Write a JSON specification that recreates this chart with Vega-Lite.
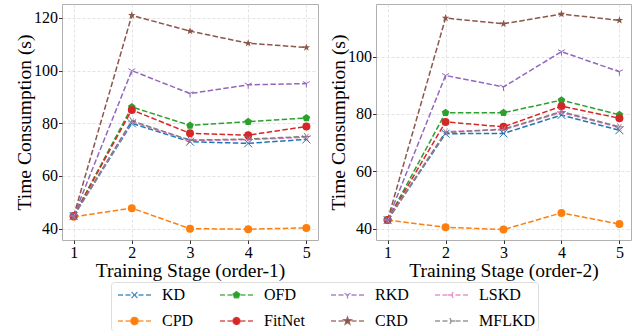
{
  "$schema": "https://vega.github.io/schema/vega-lite/v6.json",
  "background": "white",
  "padding": {"left": 14, "top": 3, "right": 5, "bottom": 0},
  "data": {"values": [
    {"o": 1, "s": 1, "m": "KD", "t": 44.8}, {"o": 1, "s": 2, "m": "KD", "t": 80.0}, {"o": 1, "s": 3, "m": "KD", "t": 73.0}, {"o": 1, "s": 4, "m": "KD", "t": 72.4}, {"o": 1, "s": 5, "m": "KD", "t": 73.9},
    {"o": 1, "s": 1, "m": "CPD", "t": 44.5}, {"o": 1, "s": 2, "m": "CPD", "t": 47.8}, {"o": 1, "s": 3, "m": "CPD", "t": 40.0}, {"o": 1, "s": 4, "m": "CPD", "t": 39.8}, {"o": 1, "s": 5, "m": "CPD", "t": 40.3},
    {"o": 1, "s": 1, "m": "OFD", "t": 44.8}, {"o": 1, "s": 2, "m": "OFD", "t": 86.2}, {"o": 1, "s": 3, "m": "OFD", "t": 79.2}, {"o": 1, "s": 4, "m": "OFD", "t": 80.6}, {"o": 1, "s": 5, "m": "OFD", "t": 82.0},
    {"o": 1, "s": 1, "m": "FitNet", "t": 44.8}, {"o": 1, "s": 2, "m": "FitNet", "t": 85.1}, {"o": 1, "s": 3, "m": "FitNet", "t": 76.2}, {"o": 1, "s": 4, "m": "FitNet", "t": 75.5}, {"o": 1, "s": 5, "m": "FitNet", "t": 78.8},
    {"o": 1, "s": 1, "m": "RKD", "t": 44.8}, {"o": 1, "s": 2, "m": "RKD", "t": 100.0}, {"o": 1, "s": 3, "m": "RKD", "t": 91.3}, {"o": 1, "s": 4, "m": "RKD", "t": 94.6}, {"o": 1, "s": 5, "m": "RKD", "t": 95.1},
    {"o": 1, "s": 1, "m": "CRD", "t": 44.8}, {"o": 1, "s": 2, "m": "CRD", "t": 121.0}, {"o": 1, "s": 3, "m": "CRD", "t": 115.0}, {"o": 1, "s": 4, "m": "CRD", "t": 110.4}, {"o": 1, "s": 5, "m": "CRD", "t": 108.8},
    {"o": 1, "s": 1, "m": "LSKD", "t": 44.8}, {"o": 1, "s": 2, "m": "LSKD", "t": 80.6}, {"o": 1, "s": 3, "m": "LSKD", "t": 73.5}, {"o": 1, "s": 4, "m": "LSKD", "t": 73.8}, {"o": 1, "s": 5, "m": "LSKD", "t": 74.7},
    {"o": 1, "s": 1, "m": "MFLKD", "t": 44.8}, {"o": 1, "s": 2, "m": "MFLKD", "t": 81.0}, {"o": 1, "s": 3, "m": "MFLKD", "t": 73.6}, {"o": 1, "s": 4, "m": "MFLKD", "t": 74.0}, {"o": 1, "s": 5, "m": "MFLKD", "t": 75.0},
    {"o": 2, "s": 1, "m": "KD", "t": 43.0}, {"o": 2, "s": 2, "m": "KD", "t": 73.1}, {"o": 2, "s": 3, "m": "KD", "t": 73.2}, {"o": 2, "s": 4, "m": "KD", "t": 79.6}, {"o": 2, "s": 5, "m": "KD", "t": 74.3},
    {"o": 2, "s": 1, "m": "CPD", "t": 43.0}, {"o": 2, "s": 2, "m": "CPD", "t": 40.5}, {"o": 2, "s": 3, "m": "CPD", "t": 39.7}, {"o": 2, "s": 4, "m": "CPD", "t": 45.5}, {"o": 2, "s": 5, "m": "CPD", "t": 41.6},
    {"o": 2, "s": 1, "m": "OFD", "t": 43.0}, {"o": 2, "s": 2, "m": "OFD", "t": 80.4}, {"o": 2, "s": 3, "m": "OFD", "t": 80.4}, {"o": 2, "s": 4, "m": "OFD", "t": 84.8}, {"o": 2, "s": 5, "m": "OFD", "t": 79.7},
    {"o": 2, "s": 1, "m": "FitNet", "t": 43.0}, {"o": 2, "s": 2, "m": "FitNet", "t": 77.2}, {"o": 2, "s": 3, "m": "FitNet", "t": 75.5}, {"o": 2, "s": 4, "m": "FitNet", "t": 82.7}, {"o": 2, "s": 5, "m": "FitNet", "t": 78.5},
    {"o": 2, "s": 1, "m": "RKD", "t": 43.0}, {"o": 2, "s": 2, "m": "RKD", "t": 93.4}, {"o": 2, "s": 3, "m": "RKD", "t": 89.4}, {"o": 2, "s": 4, "m": "RKD", "t": 101.7}, {"o": 2, "s": 5, "m": "RKD", "t": 94.7},
    {"o": 2, "s": 1, "m": "CRD", "t": 43.0}, {"o": 2, "s": 2, "m": "CRD", "t": 113.4}, {"o": 2, "s": 3, "m": "CRD", "t": 111.4}, {"o": 2, "s": 4, "m": "CRD", "t": 114.8}, {"o": 2, "s": 5, "m": "CRD", "t": 112.6},
    {"o": 2, "s": 1, "m": "LSKD", "t": 43.0}, {"o": 2, "s": 2, "m": "LSKD", "t": 73.8}, {"o": 2, "s": 3, "m": "LSKD", "t": 74.5}, {"o": 2, "s": 4, "m": "LSKD", "t": 80.5}, {"o": 2, "s": 5, "m": "LSKD", "t": 75.3},
    {"o": 2, "s": 1, "m": "MFLKD", "t": 43.0}, {"o": 2, "s": 2, "m": "MFLKD", "t": 73.5}, {"o": 2, "s": 3, "m": "MFLKD", "t": 74.7}, {"o": 2, "s": 4, "m": "MFLKD", "t": 80.8}, {"o": 2, "s": 5, "m": "MFLKD", "t": 75.5}
  ]},
  "config": {
    "font": "Liberation Serif",
    "style": {"guide-label": {"font": "Liberation Serif"}, "guide-title": {"font": "Liberation Serif"}},
    "view": {"stroke": "#b0b0b0", "strokeWidth": 1},
    "axis": {
      "labelFont": "Liberation Serif", "labelFontSize": 16, "labelColor": "black",
      "titleFont": "Liberation Serif", "titleFontSize": 19.5, "titleFontWeight": "normal", "titleColor": "black",
      "domain": false, "tickColor": "#333333", "tickSize": 3.5, "labelPadding": 1,
      "gridColor": "#dcdcdc", "gridDash": [3, 2], "gridWidth": 0.8
    },
    "axisY": {"titleBaseline": "alphabetic"},
    "legend": {
      "labelFont": "Liberation Serif", "labelFontSize": 16, "labelColor": "black"
    }
  },
  "spacing": 9,
  "hconcat": [
    {
      "width": 256, "height": 236,
      "transform": [{"filter": "datum.o == 1"}],
      "encoding": {
        "x": {"field": "s", "type": "quantitative", "scale": {"domain": [0.8, 5.2], "nice": false, "zero": false},
              "axis": {"values": [1, 2, 3, 4, 5], "format": "d", "title": "Training Stage (order-1)", "titlePadding": 1}},
        "y": {"field": "t", "type": "quantitative", "scale": {"domain": [35.7, 125.3], "nice": false, "zero": false},
              "axis": {"values": [40, 60, 80, 100, 120], "title": "Time Consumption (s)", "titlePadding": 3}}
      },
      "layer": [
        {
          "mark": {"type": "line", "strokeWidth": 1.5, "strokeDash": [5.5, 2.4]},
          "encoding": {
            "color": {"field": "m", "type": "nominal",
              "scale": {"domain": ["KD", "OFD", "RKD", "LSKD", "CPD", "FitNet", "CRD", "MFLKD"],
                        "range": ["#1f77b4", "#2ca02c", "#9467bd", "#e377c2", "#ff7f0e", "#d62728", "#8c564b", "#7f7f7f"]},
              "legend": {
                "orient": "none", "legendX": 49, "legendY": 278, "direction": "horizontal",
                "columns": 4, "title": null, "symbolSize": 400, "labelOffset": 27, "columnPadding": 21, "rowPadding": 7,
                "padding": 2, "strokeColor": "#dddddd", "fillColor": "white", "cornerRadius": 3,
                "labelLimit": 200, "labelFont": "Liberation Serif", "labelFontSize": 16, "labelColor": "black",
                "encode": {
                  "labels": {
                    "update": {
                      "font": {"signal": "'Liberation Serif'"},
                      "fontSize": {"value": 16},
                      "fill": {"value": "black"}
                    }
                  },
                  "symbols": {
                    "update": {
                      "shape": {"signal": "(datum.value === 'KD' ? 'M0.75,-0.3L1.35,0.3M0.75,0.3L1.35,-0.3' : datum.value === 'CPD' ? 'M0.68,0A0.37,0.37 0 1,0 1.42,0A0.37,0.37 0 1,0 0.68,0Z' : datum.value === 'FitNet' ? 'M0.7,0A0.35,0.35 0 1,0 1.4,0A0.35,0.35 0 1,0 0.7,0Z' : datum.value === 'OFD' ? 'M1.05,-0.35L1.383,-0.108L1.256,0.283L0.844,0.283L0.717,-0.108Z' : datum.value === 'CRD' ? 'M1.05,-0.4L1.144,-0.129L1.43,-0.124L1.202,0.049L1.285,0.324L1.05,0.16L0.815,0.324L0.898,0.049L0.67,-0.124L0.956,-0.129Z' : datum.value === 'RKD' ? 'M1.05,0L1.05,0.35M1.05,0L0.747,-0.175M1.05,0L1.353,-0.175' : datum.value === 'LSKD' ? 'M1.05,0L0.7,0M1.05,0L1.225,-0.303M1.05,0L1.225,0.303' : 'M1.05,0L1.4,0M1.05,0L0.875,-0.303M1.05,0L0.875,0.303') + 'M-0.6,0H-0.1M0.15,0H0.65M0.9,0H1.2M1.45,0H1.95M2.2,0H2.7'"},
                      "fill": {"scale": "color", "field": "value"},
                      "stroke": {"scale": "color", "field": "value"},
                      "strokeWidth": {"value": 1.3},
                      "strokeDash": {"value": [1, 0]},
                      "opacity": {"value": 1},
                      "fillOpacity": {"value": 1},
                      "strokeOpacity": {"value": 0.8}
                    }
                  }
                }
              }
            }
          }
        },
        {
          "transform": [{"filter": {"field": "m", "oneOf": ["CPD", "OFD", "FitNet", "CRD"]}}],
          "mark": {"type": "point", "filled": true, "opacity": 1},
          "encoding": {
            "color": {"field": "m", "type": "nominal"},
            "shape": {"field": "m", "type": "nominal", "legend": null,
              "scale": {"domain": ["KD", "CPD", "OFD", "FitNet", "RKD", "CRD", "LSKD", "MFLKD"],
                        "range": ["M-1,-1L1,1M-1,1L1,-1", "circle", "M0,-1L0.951,-0.309L0.588,0.809L-0.588,0.809L-0.951,-0.309Z", "circle", "M0,0L0,1M0,0L-0.866,-0.5M0,0L0.866,-0.5", "M0,-1L0.235,-0.324L0.951,-0.309L0.38,0.124L0.588,0.809L0,0.4L-0.588,0.809L-0.38,0.124L-0.951,-0.309L-0.235,-0.324Z", "M0,0L-1,0M0,0L0.5,-0.866M0,0L0.5,0.866", "M0,0L1,0M0,0L-0.5,-0.866M0,0L-0.5,0.866"]}},
            "size": {"field": "m", "type": "nominal", "legend": null,
              "scale": {"domain": ["MFLKD", "LSKD", "CRD", "RKD", "FitNet", "OFD", "CPD", "KD"],
                        "range": [64, 64, 90, 64, 70, 70, 85, 49]}}
          }
        },
        {
          "transform": [{"filter": {"field": "m", "oneOf": ["KD", "RKD", "LSKD", "MFLKD"]}}],
          "mark": {"type": "point", "filled": false, "strokeWidth": 1, "opacity": 1},
          "encoding": {
            "color": {"field": "m", "type": "nominal"},
            "shape": {"field": "m", "type": "nominal", "legend": null},
            "size": {"field": "m", "type": "nominal", "legend": null}
          }
        }
      ]
    },
    {
      "width": 255, "height": 236,
      "transform": [{"filter": "datum.o == 2"}],
      "encoding": {
        "x": {"field": "s", "type": "quantitative", "scale": {"domain": [0.8, 5.2], "nice": false, "zero": false},
              "axis": {"values": [1, 2, 3, 4, 5], "format": "d", "title": "Training Stage (order-2)", "titlePadding": 1}},
        "y": {"field": "t", "type": "quantitative", "scale": {"domain": [36.06, 118.3], "nice": false, "zero": false},
              "axis": {"values": [40, 60, 80, 100], "title": "Time Consumption (s)", "titlePadding": 3}}
      },
      "layer": [
        {
          "mark": {"type": "line", "strokeWidth": 1.5, "strokeDash": [5.5, 2.4]},
          "encoding": {"color": {"field": "m", "type": "nominal"}}
        },
        {
          "transform": [{"filter": {"field": "m", "oneOf": ["CPD", "OFD", "FitNet", "CRD"]}}],
          "mark": {"type": "point", "filled": true, "opacity": 1},
          "encoding": {
            "color": {"field": "m", "type": "nominal"},
            "shape": {"field": "m", "type": "nominal", "legend": null},
            "size": {"field": "m", "type": "nominal", "legend": null}
          }
        },
        {
          "transform": [{"filter": {"field": "m", "oneOf": ["KD", "RKD", "LSKD", "MFLKD"]}}],
          "mark": {"type": "point", "filled": false, "strokeWidth": 1, "opacity": 1},
          "encoding": {
            "color": {"field": "m", "type": "nominal"},
            "shape": {"field": "m", "type": "nominal", "legend": null},
            "size": {"field": "m", "type": "nominal", "legend": null}
          }
        }
      ]
    }
  ]
}
